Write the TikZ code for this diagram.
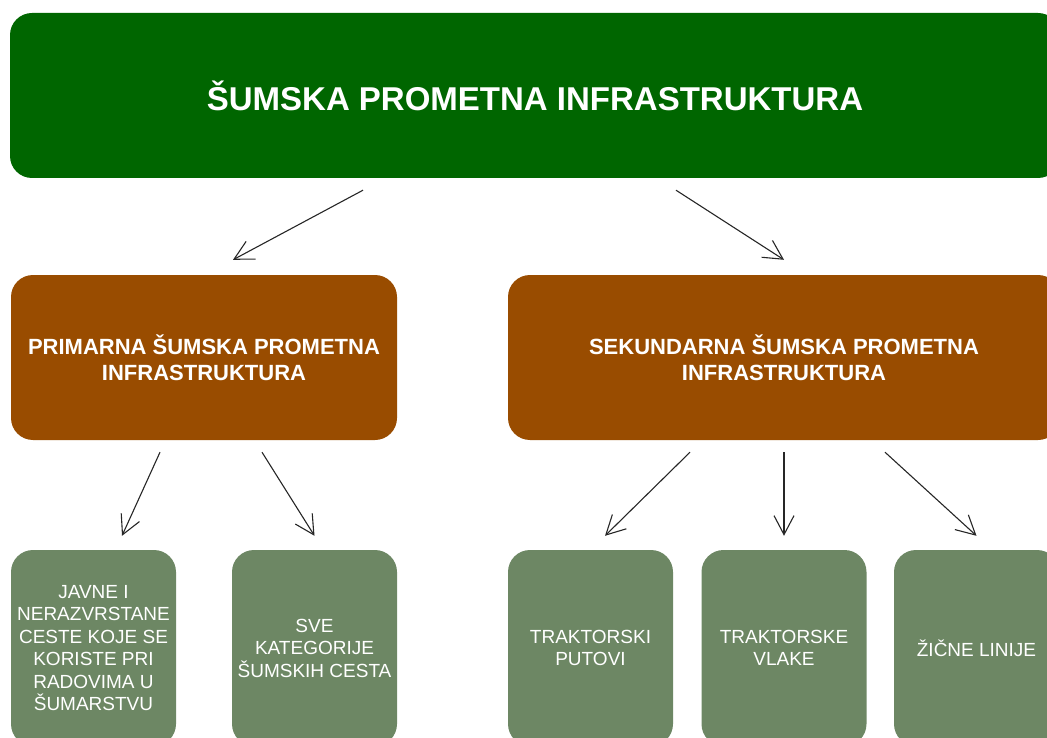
\documentclass[tikz,border=0pt]{standalone}
\usepackage{fontspec}
\setmainfont{Liberation Sans}
\usetikzlibrary{arrows.meta}

\definecolor{topgreen}{HTML}{006600}
\definecolor{midbrown}{HTML}{994C00}
\definecolor{leafgreen}{HTML}{6D8764}

\begin{document}
\begin{tikzpicture}[x=1pt, y=-1pt,
  box/.style={rectangle, rounded corners=22pt, inner sep=0pt, align=center, text=white},
  main/.style={box, fill=topgreen, minimum width=1050pt, minimum height=165pt, font=\bfseries\fontsize{33}{40}\selectfont},
  group/.style={box, fill=midbrown, minimum height=165pt, font=\bfseries\fontsize{22}{26.5}\selectfont},
  leaf/.style={box, fill=leafgreen, minimum width=165pt, minimum height=196pt, font=\fontsize{19}{22.5}\selectfont},
  arr/.style={-{Straight Barb[length=19pt,width=20pt]}, line width=1.1pt, black!85}]

\clip (0,0) rectangle (1047,738);

\node[main] at (535,95.5) (title) {ŠUMSKA PROMETNA INFRASTRUKTURA};

\node[group, minimum width=386pt] at (204,357.5) (prim) {PRIMARNA ŠUMSKA PROMETNA\\INFRASTRUKTURA};
\node[group, minimum width=552pt] at (784,357.5) (sek) {SEKUNDARNA ŠUMSKA PROMETNA\\INFRASTRUKTURA};

\node[leaf] at (93.5,648) (javne) {JAVNE I\\NERAZVRSTANE\\CESTE KOJE SE\\KORISTE PRI\\RADOVIMA U\\ŠUMARSTVU};
\node[leaf] at (314.5,648) (sve) {SVE\\KATEGORIJE\\ŠUMSKIH CESTA};
\node[leaf] at (590.5,648) (putovi) {TRAKTORSKI\\PUTOVI};
\node[leaf] at (784,648) (vlake) {TRAKTORSKE\\VLAKE};
\node[leaf] at (976.5,648) (zicne) {ŽIČNE LINIJE};

% top level
\draw[arr] ([xshift=-172pt,yshift=-12pt]title.south) -- ([xshift=29pt,yshift=15pt]prim.north);
\draw[arr] ([xshift=141pt,yshift=-12pt]title.south) -- ([yshift=15pt]sek.north);

% primarna
\draw[arr] ([xshift=-44pt,yshift=-12pt]prim.south) -- ([xshift=28.5pt,yshift=14pt]javne.north);
\draw[arr] ([xshift=58pt,yshift=-12pt]prim.south) -- ([yshift=14pt]sve.north);

% sekundarna
\draw[arr] ([xshift=-94pt,yshift=-12pt]sek.south) -- ([xshift=14.5pt,yshift=14pt]putovi.north);
\draw[arr] ([yshift=-12pt]sek.south) -- ([yshift=14pt]vlake.north);
\draw[arr] ([xshift=101pt,yshift=-12pt]sek.south) -- ([yshift=14pt]zicne.north);
\end{tikzpicture}
\end{document}
